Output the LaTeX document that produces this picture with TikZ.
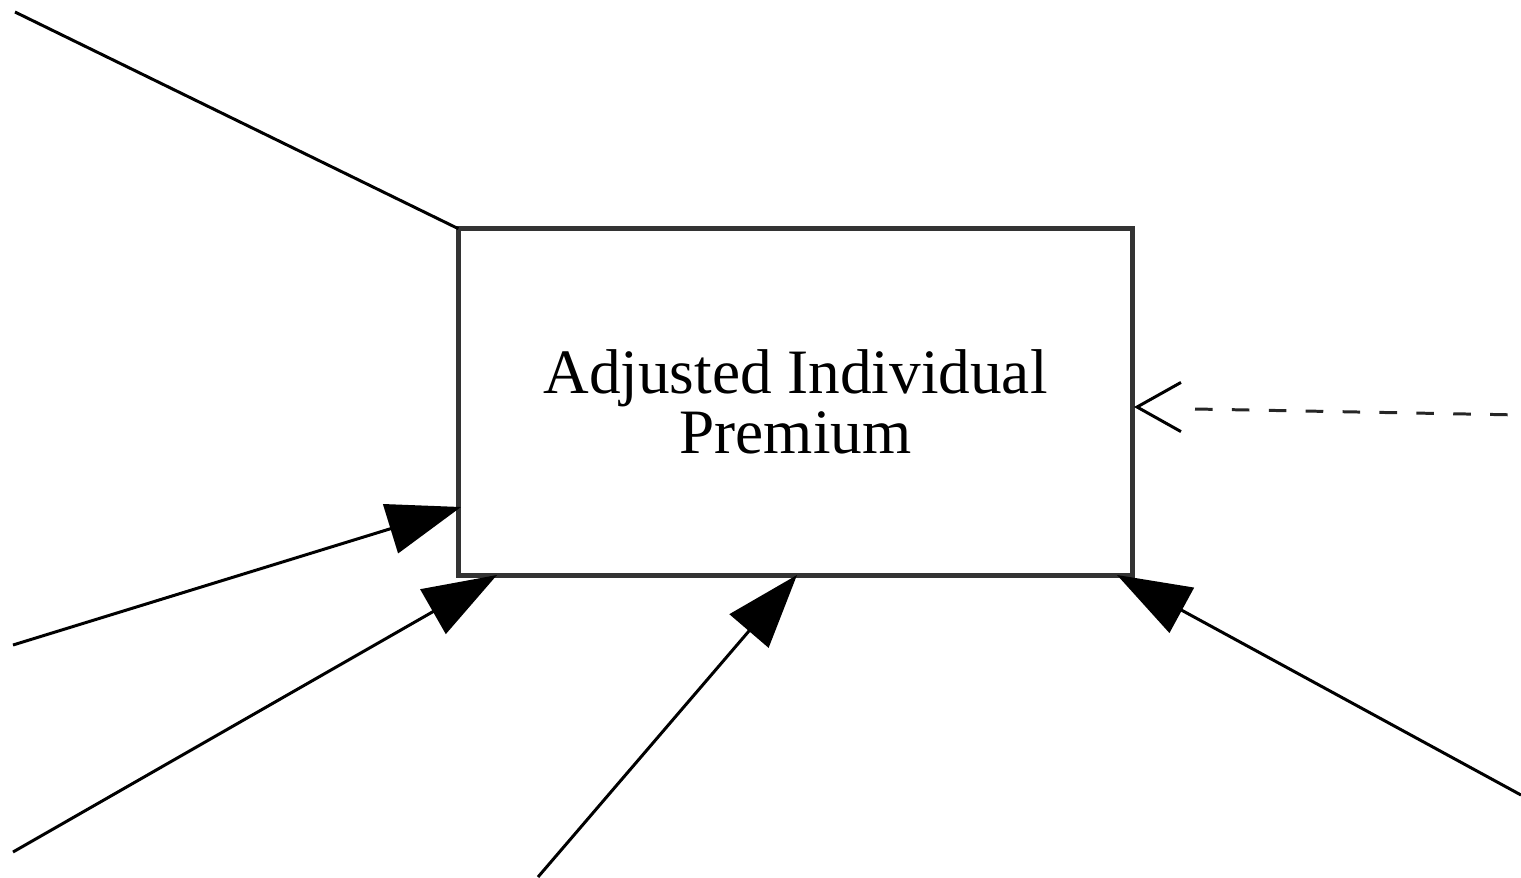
\documentclass[tikz,border=0pt]{standalone}
\usepackage{fontspec}
\setmainfont{Liberation Serif}
\usetikzlibrary{arrows.meta,calc}
\begin{document}
\begin{tikzpicture}[x=0.02cm,y=-0.02cm,
  boxstyle/.style={draw=black!80,line width=2.6pt,minimum width=383.8pt,minimum height=197.3pt,inner sep=0pt,outer sep=0pt,align=center,font=\fontsize{36}{34}\selectfont},
  conn/.style={line width=1.7pt,black},
  solidarrow/.style={conn,-{Triangle[length=42pt,width=29pt]}},
  dashconn/.style={line width=1.7pt,black!85,dash pattern=on 10pt off 11pt},
  barb/.style={line width=1.7pt,black,-{Straight Barb[length=25pt,width=28pt]}}]
\useasboundingbox (0,0) rectangle (1521,877);
\node[boxstyle] (box) at (795.5,402) {Adjusted Individual\\Premium};
% free ends
\coordinate (s1) at (15,12);
\coordinate (s2) at (13,645);
\coordinate (s3) at (13,852);
\coordinate (s4) at (538,877);
\coordinate (s5) at (1521,795);
\coordinate (s6) at (1521,415);
% ends at the box
\coordinate (e2) at (461,507);
\coordinate (e3) at (497,575);
\coordinate (e4) at (797,575);
\coordinate (e5) at (1117,575);
\coordinate (e6) at (1134,407);
\coordinate (g6) at (1195,409);
\coordinate (b6) at (1137,407);
\draw[conn] (s1) -- (box.north west);
\draw[solidarrow] (s2) -- (e2);
\draw[solidarrow] (s3) -- (e3);
\draw[solidarrow] (s4) -- (e4);
\draw[solidarrow] (s5) -- (e5);
\draw[dashconn] (g6) -- (s6);
\draw[barb] (b6) -- (e6);
\end{tikzpicture}
\end{document}
